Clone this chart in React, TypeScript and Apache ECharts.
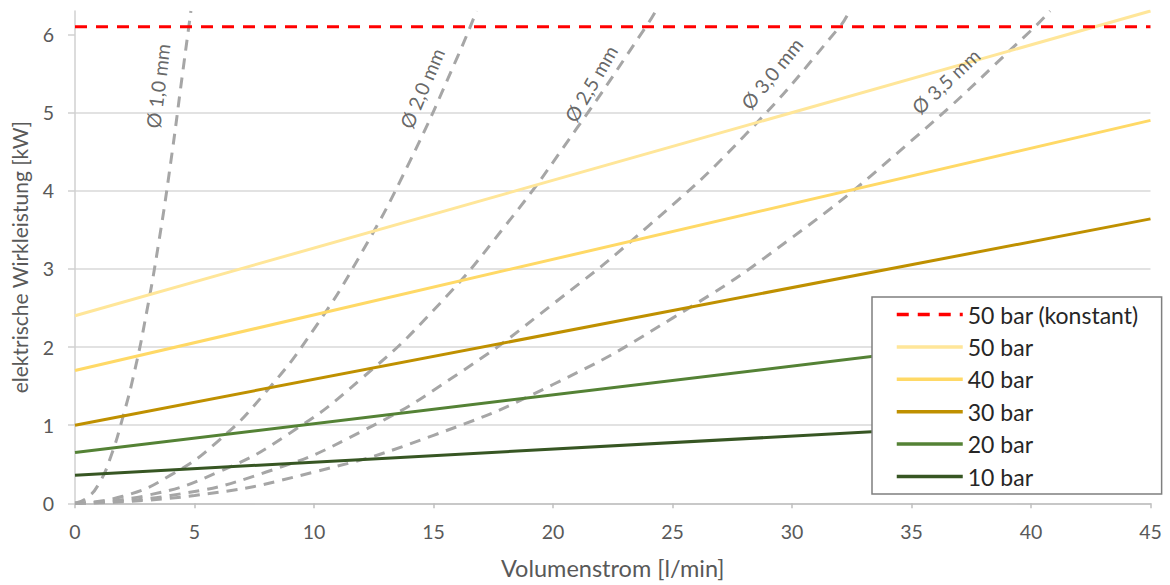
import React, { useEffect, useRef } from "react";
import * as echarts from "echarts";

// ---- data ----
const flowRange = [0, 45];
const xTicks = [0, 5, 10, 15, 20, 25, 30, 35, 40, 45];
const yTicks = [0, 1, 2, 3, 4, 5, 6];

const constantName = "50 bar (konstant)";
const constantLevel = 6.1;

const pressureNames = ["50 bar", "40 bar", "30 bar", "20 bar", "10 bar"];
const pressureStart = [2.4, 1.7, 1.0, 0.65, 0.36];
const pressureEnd = [6.3, 4.9, 3.64, 2.31, 1.11];
const pressureColors = ["#FFE699", "#FFD966", "#BF9000", "#548235", "#375623"];

const nozzle10X = [0, 0.5, 1, 1.5, 2, 2.5, 3, 3.5, 4, 4.5, 4.85];
const nozzle10Y = [0, 0.07, 0.25, 0.6, 1.1, 1.7, 2.45, 3.33, 4.35, 5.5, 6.3];
const nozzle20X = [0, 2, 4, 6, 8, 10, 12, 14, 16, 16.8];
const nozzle20Y = [0, 0.09, 0.36, 0.8, 1.43, 2.23, 3.21, 4.37, 5.71, 6.3];
const nozzle25X = [0, 3, 6, 9, 12, 15, 18, 21, 24, 24.3];
const nozzle25Y = [0, 0.1, 0.4, 0.9, 1.6, 2.47, 3.55, 4.8, 6.15, 6.3];
const nozzle30X = [0, 4, 8, 12, 16, 20, 24, 28, 32, 32.4];
const nozzle30Y = [0, 0.1, 0.4, 0.92, 1.65, 2.55, 3.55, 4.7, 6.1, 6.3];
const nozzle35X = [0, 5, 10, 15, 20, 25, 30, 35, 40, 40.8];
const nozzle35Y = [0, 0.1, 0.4, 0.87, 1.52, 2.37, 3.4, 4.64, 6.05, 6.3];

const nozzleLabels = ["Ø 1,0 mm", "Ø 2,0 mm", "Ø 2,5 mm", "Ø 3,0 mm", "Ø 3,5 mm"];
const nozzleLabelX = [3.47, 14.52, 21.59, 29.16, 36.44];
const nozzleLabelY = [5.34, 5.31, 5.37, 5.5, 5.4];
const nozzleLabelAngle = [83, 67, 60, 51, 43];

const FONT = "Lato, 'Open Sans', sans-serif";

function zip(xs: number[], ys: number[]) {
  return xs.map((x, i) => [x, ys[i]]);
}

export default function App() {
  const ref = useRef<HTMLDivElement>(null);

  useEffect(() => {
    if (!ref.current) return;
    const chart = echarts.init(ref.current, null, { renderer: "svg" });

    const nozzleSets = [
      zip(nozzle10X, nozzle10Y),
      zip(nozzle20X, nozzle20Y),
      zip(nozzle25X, nozzle25Y),
      zip(nozzle30X, nozzle30Y),
      zip(nozzle35X, nozzle35Y),
    ];

    const series: any[] = [];
    nozzleSets.forEach((d, i) => {
      series.push({
        name: "nozzle" + i,
        type: "line",
        data: d,
        smooth: true,
        symbol: "none",
        lineStyle: { color: "#A6A6A6", width: 3, type: [11, 8] },
        z: 2,
      });
    });
    pressureNames.forEach((n, i) => {
      series.push({
        name: n,
        type: "line",
        data: [
          [flowRange[0], pressureStart[i]],
          [flowRange[1], pressureEnd[i]],
        ],
        symbol: "none",
        lineStyle: { color: pressureColors[i], width: 3 },
        itemStyle: { color: pressureColors[i] },
        z: 3,
      });
    });
    series.push({
      name: constantName,
      type: "line",
      data: [
        [flowRange[0], constantLevel],
        [flowRange[1], constantLevel],
      ],
      symbol: "none",
      lineStyle: { color: "#FF0000", width: 3, type: [12, 9] },
      itemStyle: { color: "#FF0000" },
      z: 4,
    });
    series.push({
      name: "labels",
      type: "scatter",
      symbolSize: 0,
      silent: true,
      z: 5,
      data: nozzleLabels.map((t, i) => ({
        value: [nozzleLabelX[i], nozzleLabelY[i]],
        label: {
          show: true,
          formatter: t,
          position: "inside",
          rotate: nozzleLabelAngle[i],
          fontSize: 19.5,
          fontFamily: FONT,
          color: "#404040",
        },
      })),
    });

    chart.setOption({
      animation: false,
      backgroundColor: "#ffffff",
      textStyle: { fontFamily: FONT },
      grid: {
        left: 75,
        right: 19.5,
        top: 11,
        bottom: 81.7,
        containLabel: false,
        outerBoundsMode: "none",
      },
      legend: {
        data: [constantName, ...pressureNames],
        orient: "vertical",
        left: 872,
        top: 297,
        backgroundColor: "#ffffff",
        borderColor: "#7F7F7F",
        borderWidth: 1.5,
        borderRadius: 0,
        padding: [6, 23, 6, 23],
        itemWidth: 66,
        itemHeight: 14,
        itemGap: 9.4,
        selectedMode: false,
        itemStyle: { opacity: 0 },
        lineStyle: { width: 3.5 },
        textStyle: { fontSize: 23, color: "#262626", fontFamily: FONT },
      },
      xAxis: {
        type: "value",
        min: flowRange[0],
        max: flowRange[1],
        interval: 5,
        name: "Volumenstrom [l/min]",
        nameLocation: "middle",
        nameGap: 53,
        nameTextStyle: { fontSize: 23.5, color: "#595959", fontFamily: FONT },
        axisLine: { show: true, lineStyle: { color: "#BFBFBF", width: 1.5 } },
        axisTick: { show: true, length: 5, lineStyle: { color: "#BFBFBF", width: 1.5 }, customValues: xTicks },
        axisLabel: { fontSize: 19.5, color: "#595959", margin: 18, fontFamily: FONT, customValues: xTicks },
        splitLine: { show: false },
      },
      yAxis: {
        type: "value",
        min: 0,
        max: 6.3,
        interval: 1,
        name: "elektrische Wirkleistung [kW]",
        nameLocation: "middle",
        nameGap: 45,
        nameTextStyle: { fontSize: 21, color: "#595959", fontFamily: FONT },
        axisLine: { show: true, lineStyle: { color: "#D0D0D0", width: 1.5 } },
        axisTick: { show: true, length: 7, lineStyle: { color: "#D0D0D0", width: 1.5 }, customValues: yTicks },
        axisLabel: { fontSize: 19.5, color: "#595959", margin: 21, fontFamily: FONT, customValues: yTicks },
        splitLine: { show: true, showMaxLine: false, lineStyle: { color: "#D9D9D9", width: 1.5 } },
      },
      series,
    });

    return () => chart.dispose();
  }, []);

  return (
    <div
      ref={ref}
      style={{ position: "fixed", left: 0, top: 0, width: 1170, height: 585, background: "#fff" }}
    />
  );
}
